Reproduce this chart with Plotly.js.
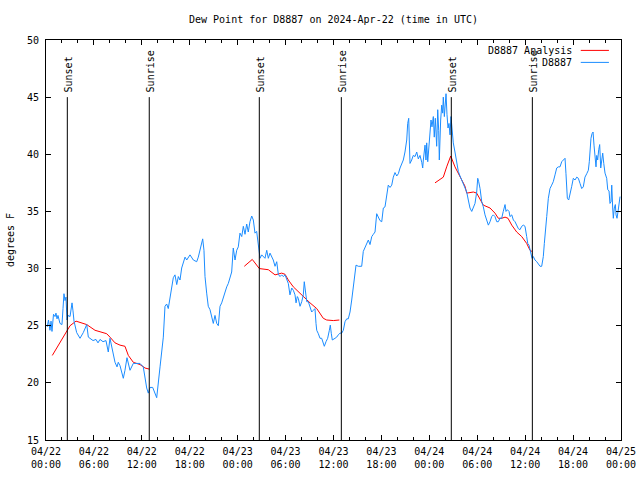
<!DOCTYPE html>
<html>
<head>
<meta charset="utf-8">
<script src="https://cdn.plot.ly/plotly-3.0.1.min.js"></script>
<style>html,body{margin:0;padding:0;background:#fff;}#chart{width:640px;height:480px;}</style>
</head>
<body>
<div id="chart"></div>
<script>
// Hours since 2024-04-22 00:00 UTC
const blueHours = [
0.16,0.31,0.50,0.63,0.75,0.94,1.13,1.25,1.38,1.50,
1.75,2.00,2.13,2.25,2.38,2.50,2.63,2.75,3.01,3.13,
3.26,3.38,3.51,3.84,4.26,4.67,5.10,5.30,5.51,5.89,
6.26,6.51,6.76,7.14,7.51,7.80,8.01,8.39,8.64,8.89,
9.05,9.27,9.68,9.89,10.14,10.52,10.93,11.40,11.77,12.18,
12.40,12.61,12.81,13.02,13.36,13.65,13.86,14.28,14.69,14.90,
15.11,15.31,15.53,15.74,15.94,16.15,16.37,16.57,16.78,16.99,
17.19,17.41,17.62,17.82,18.03,18.45,18.87,19.07,19.28,19.50,
19.62,19.78,19.91,20.12,20.32,20.54,20.75,20.95,21.16,21.38,
21.58,21.79,22.00,22.20,22.41,22.63,22.83,23.04,23.25,23.45,
23.67,23.88,24.08,24.29,24.51,24.71,24.92,25.13,25.33,25.54,
25.76,25.96,26.17,26.38,26.58,26.71,26.80,27.01,27.21,27.42,
27.64,27.84,28.05,28.46,28.68,28.89,29.09,29.30,29.51,29.71,
29.93,30.14,30.34,30.55,30.77,30.97,31.18,31.31,31.47,31.59,
31.81,32.02,32.22,32.34,32.52,32.65,32.85,33.06,33.27,33.47,
33.68,33.81,33.90,34.10,34.31,34.52,34.72,34.85,35.06,35.27,
35.48,35.60,35.73,35.85,36.19,36.40,36.60,36.81,37.03,37.23,
37.44,37.65,37.85,38.07,38.28,38.48,38.69,38.82,39.11,39.53,
39.73,39.95,40.16,40.36,40.57,40.79,40.99,41.20,41.41,41.61,
41.82,42.04,42.24,42.45,42.66,42.86,43.08,43.29,43.49,43.70,
43.92,44.12,44.33,44.54,44.74,44.95,45.17,45.29,45.42,45.49,
45.58,45.79,45.99,46.21,46.42,46.62,46.83,47.05,47.17,47.25,
47.46,47.58,47.67,47.80,47.96,48.08,48.21,48.33,48.50,48.62,
48.75,48.92,49.05,49.17,49.25,49.42,49.55,49.67,49.75,49.88,
50.00,50.09,50.21,50.34,50.46,50.59,50.71,50.84,51.00,51.21,
51.43,51.63,51.84,52.05,52.25,52.47,52.68,52.88,53.09,53.31,
53.51,53.72,53.93,54.06,54.18,54.35,54.56,54.76,54.97,55.19,
55.39,55.60,55.81,56.01,56.22,56.44,56.64,56.85,57.06,57.26,
57.48,57.60,57.77,57.98,58.10,58.32,58.52,58.73,58.94,59.14,
59.35,59.57,59.77,59.98,60.19,60.32,60.48,60.61,60.73,60.86,
61.02,61.23,61.45,61.65,61.86,62.07,62.27,62.40,62.52,62.70,
62.90,63.11,63.32,63.52,63.74,63.95,64.15,64.36,64.58,64.78,
64.99,65.11,65.28,65.45,65.62,65.83,66.03,66.24,66.46,66.66,
66.87,67.08,67.28,67.49,67.71,67.91,68.03,68.12,68.24,68.37,
68.50,68.62,68.75,68.87,68.96,69.08,69.21,69.33,69.46,69.59,
69.71,69.84,70.00,70.21,70.34,70.50,70.62,70.75,70.84,70.96,
71.04,71.16,71.29,71.38,71.50,71.63,71.75,71.88
];
const blueDew = [
24.9,25.5,24.6,25.4,24.5,26.0,25.8,26.1,25.6,25.9,
25.2,25.1,26.5,27.8,27.2,27.5,25.5,25.9,25.8,26.6,
27.0,26.3,25.4,24.4,23.9,24.4,25.1,24.0,23.9,23.7,
23.8,23.5,23.8,23.6,23.7,22.7,23.9,22.6,21.8,21.4,
21.8,21.5,20.4,21.1,22.2,21.1,21.7,21.7,21.7,21.4,
20.4,19.55,19.1,19.6,19.6,19.0,18.7,21.4,24.0,26.7,
26.9,26.5,27.5,28.3,29.2,29.45,28.6,29.3,29.0,30.05,
30.5,31.0,30.75,31.0,31.2,30.75,30.6,31.0,31.6,32.2,
32.6,31.6,29.3,27.85,26.7,26.4,25.7,25.2,25.9,25.2,
25.0,26.7,27.0,27.5,27.8,28.4,28.7,29.3,29.7,31.8,
30.75,31.6,31.9,33.1,32.8,33.7,33.0,33.9,33.2,34.1,
34.6,34.25,33.1,33.25,32.2,31.2,30.9,31.2,31.05,30.9,
31.6,30.9,31.35,30.75,30.2,30.6,29.5,29.3,29.45,29.3,
29.45,29.0,28.7,27.7,28.3,28.1,27.7,27.0,27.55,27.4,
26.7,27.1,27.7,28.85,27.8,27.1,27.1,26.7,26.2,26.35,
26.5,25.2,24.6,24.3,23.9,23.9,23.5,23.2,23.6,23.9,
24.6,25.05,24.3,23.75,23.9,24.0,24.2,24.35,24.35,24.6,
25.35,25.6,25.6,26.2,27.25,28.4,29.3,30.3,30.2,30.2,
31.5,31.8,32.2,32.5,32.1,32.8,33.0,33.2,34.8,34.5,
34.2,34.1,35.3,35.4,36.4,37.3,37.1,37.3,38.0,38.4,
38.1,38.3,38.8,39.1,39.5,40.2,41.25,42.7,43.15,41.25,
39.2,39.5,39.9,39.8,40.2,39.6,39.9,39.3,38.8,39.5,
40.8,39.5,41.0,39.35,40.7,42.1,43.0,42.4,43.3,41.5,
43.15,40.7,43.9,42.1,39.5,43.0,44.3,43.6,45.0,43.3,
44.3,45.3,43.5,42.3,42.7,41.7,43.3,42.3,41.0,40.2,
39.35,38.5,38.1,37.75,37.5,37.0,36.7,36.0,35.3,35.0,
35.3,35.7,36.7,37.9,37.6,37.0,35.85,35.4,34.7,34.25,
33.8,34.1,34.55,34.7,34.55,34.1,34.1,34.4,34.4,35.0,
35.6,35.0,35.15,35.0,34.55,34.7,34.25,34.1,33.8,33.5,
33.4,33.7,33.8,33.7,32.8,32.2,32.05,31.6,31.05,30.9,
31.05,30.75,30.6,30.45,30.2,30.2,31.05,32.2,33.4,34.55,
36.15,37.0,37.3,37.6,38.2,38.8,38.9,38.9,39.35,39.55,
39.65,38.3,36.15,36.0,36.45,37.2,37.9,37.75,38.0,37.9,
37.45,37.0,37.15,38.0,38.3,38.6,39.35,40.7,41.4,41.8,
41.95,40.8,39.8,38.9,39.9,39.5,40.4,40.85,38.8,39.8,
40.1,39.2,38.35,37.9,36.9,36.8,35.7,35.85,37.3,35.3,
34.4,35.3,35.6,34.7,34.4,35.0,35.85,36.3
];
// Analysis series (null = gap between segments)
const redHours = [
0.79,2.59,3.01,3.76,5.10,6.14,7.60,8.01,8.64,9.27,9.89,10.31,10.93,11.77,12.40,12.94,
null,
24.83,25.83,26.71,27.17,27.84,28.68,29.09,29.51,29.93,30.34,30.97,31.81,33.06,33.90,34.72,35.15,35.98,36.73,
null,
48.71,49.55,49.75,50.17,50.68,51.21,51.84,52.47,52.68,53.51,53.93,54.35,54.76,55.60,56.22,56.64,57.06,57.48,57.85,58.32,58.94,59.57,60.19,60.61,60.85
];
const redDew = [
22.4,24.6,25.0,25.4,25.1,24.6,24.3,24.0,23.5,23.3,23.2,22.4,21.8,21.6,21.3,21.2,
null,
30.2,30.8,30.0,29.95,29.9,29.45,29.5,29.6,29.5,29.0,28.4,27.8,27.0,26.5,25.65,25.5,25.45,25.5,
null,
37.5,37.9,38.0,38.9,39.85,38.9,38.0,37.2,36.6,36.7,36.6,36.0,35.55,35.3,34.85,34.4,34.4,34.5,34.4,33.8,33.2,32.8,32.2,31.6,31.5
];
const sunHours = [2.67, 12.93, 26.71, 36.98, 50.75, 60.90];
const sunLabels = ['Sunset','Sunrise','Sunset','Sunrise','Sunset','Sunrise'];
const seriesNames = ['D8887 Analysis','D8887'];
const seriesColors = ['#ff0000','#1a8cff'];

function toDate(h){
  if (h === null) return null;
  const ms = Date.UTC(2024,3,22) + Math.round(h*3600000);
  return new Date(ms).toISOString().replace('T',' ').slice(0,19);
}

const FONT = {family:'DejaVu Sans Mono, monospace', size:10, color:'#000'};

const traces = [
  {x: redHours.map(toDate), y: redDew, type:'scatter', mode:'lines', name:seriesNames[0],
   line:{color:seriesColors[0], width:1}, connectgaps:false, showlegend:false},
  {x: blueHours.map(toDate), y: blueDew, type:'scatter', mode:'lines', name:seriesNames[1],
   line:{color:seriesColors[1], width:1}, showlegend:false}
];

const shapes = [];
const annotations = [];
sunHours.forEach((h,i)=>{
  shapes.push({type:'line', xref:'x', yref:'y', x0:toDate(h), x1:toDate(h), y0:15, y1:45,
    line:{color:'#000', width:1}});
  annotations.push({xref:'x', yref:'y', x:toDate(h), y:45, text:sunLabels[i], textangle:-90,
    showarrow:false, xanchor:'center', yanchor:'bottom', yshift:3, xshift:1, font:FONT});
});
// legend (gnuplot style: text then sample line)
const legY = [0.974, 0.944];
seriesNames.forEach((n,i)=>{
  annotations.push({xref:'paper', yref:'paper', x:0.918, y:legY[i], text:n, showarrow:false,
    xanchor:'right', yanchor:'middle', font:FONT});
  shapes.push({type:'line', xref:'paper', yref:'paper', x0:0.930, x1:0.979, y0:legY[i], y1:legY[i],
    line:{color:seriesColors[i], width:1}});
});

const layout = {
  width:640, height:480,
  margin:{l:46, r:19, t:40, b:40},
  paper_bgcolor:'#fff', plot_bgcolor:'#fff',
  font: FONT,
  title:{text:'Dew Point for D8887 on 2024-Apr-22 (time in UTC)', font:FONT,
    x:0.5, xref:'paper', xanchor:'center', y:1-19/480, yref:'container', yanchor:'middle'},
  xaxis:{type:'date', range:[toDate(0), toDate(72)], tick0:toDate(0), dtick:6*3600000,
    tickformat:'%m/%d<br>%H:%M', ticks:'inside', ticklen:5, tickcolor:'#000',
    minor:{dtick:2*3600000, ticks:'inside', ticklen:3, tickcolor:'#000'},
    showline:true, linecolor:'#000', linewidth:1, mirror:'ticks', showgrid:false, zeroline:false,
    tickfont:FONT, ticklabelstandoff:2},
  yaxis:{range:[15,50], dtick:5, tick0:15, ticks:'inside', ticklen:5, tickcolor:'#000',
    showline:true, linecolor:'#000', linewidth:1, mirror:'ticks', showgrid:false, zeroline:false,
    tickfont:FONT, ticklabelstandoff:4, title:{text:'degrees F', font:FONT, standoff:10}},
  shapes: shapes,
  annotations: annotations,
  showlegend:false
};

Plotly.newPlot('chart', traces, layout, {staticPlot:true, displayModeBar:false});
</script>
</body>
</html>
